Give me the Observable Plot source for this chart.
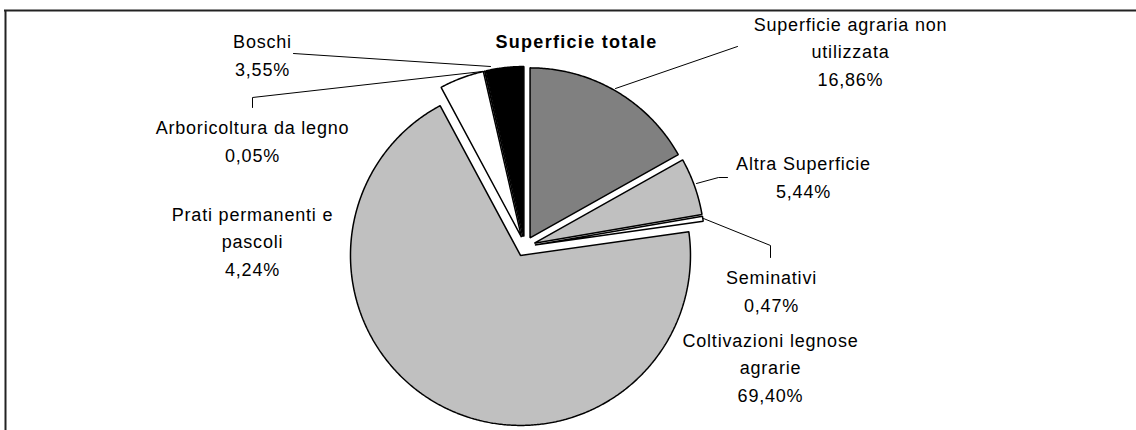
<!DOCTYPE html>
<html>
<head>
<meta charset="utf-8">
<script src="https://cdn.jsdelivr.net/npm/d3@7"></script>
<script src="https://cdn.jsdelivr.net/npm/@observablehq/plot@0.6"></script>
<style>
  html, body { margin: 0; padding: 0; background: #fff; }
  #chart svg { display: block; background: #fff; }
  #chart svg text { letter-spacing: 0.8px; }
  #chart svg g[font-weight="bold"] text { letter-spacing: 1.3px; }
</style>
</head>
<body>
<div id="chart"></div>
<script>
// ---- data ----
const categories = [
  "Superficie agraria non utilizzata",
  "Altra Superficie",
  "Seminativi",
  "Coltivazioni legnose agrarie",
  "Prati permanenti e pascoli",
  "Arboricoltura da legno",
  "Boschi"
];
const values = [16.86, 5.44, 0.47, 69.40, 4.24, 0.05, 3.55];
const valueLabels = ["16,86%", "5,44%", "0,47%", "69,40%", "4,24%", "0,05%", "3,55%"];
const labelLines = [
  ["Superficie agraria non", "utilizzata"],
  ["Altra Superficie"],
  ["Seminativi"],
  ["Coltivazioni legnose", "agrarie"],
  ["Prati permanenti e", "pascoli"],
  ["Arboricoltura da legno"],
  ["Boschi"]
];
const chartTitle = "Superficie totale";

// ---- styles / layout ----
const sliceColors = ["#808080", "#c0c0c0", "#ffffff", "#c0c0c0", "#ffffff", "#c0c0c0", "#000000"];
const W = 1136, H = 430;
const pie = {cx: 524.5, cy: 246, r: 170, explode: 10};
// label anchor: center x, baseline of last line
const labelPos = [
  {x: 850, y: 85},
  {x: 803, y: 197},
  {x: 771, y: 311},
  {x: 770, y: 401},
  {x: 252, y: 275},
  {x: 252, y: 161},
  {x: 262, y: 75}
];
const leaders = [
  [[737, 46], [615, 88]],
  [[727, 177], [718, 177], [696, 183]],
  [[770, 257], [770, 245], [703, 218]],
  null,
  null,
  [[252, 107], [252, 97], [482, 71]],
  [[293, 53], [490, 66]]
];
const titlePos = {x: 576, y: 47};

// ---- build slices from data ----
const arcs = d3.pie().sort(null).value(d => d)(values);
const slicePts = [];
arcs.forEach((a, i) => {
  const mid = (a.startAngle + a.endAngle) / 2;
  const ox = pie.cx + pie.explode * Math.sin(mid);
  const oy = pie.cy - pie.explode * Math.cos(mid);
  slicePts.push({name: categories[i], color: sliceColors[i], x: ox, y: oy});
  const n = Math.max(2, Math.ceil((a.endAngle - a.startAngle) / (Math.PI / 360)));
  for (let k = 0; k <= n; k++) {
    const t = a.startAngle + (a.endAngle - a.startAngle) * k / n;
    slicePts.push({name: categories[i], color: sliceColors[i],
      x: ox + pie.r * Math.sin(t), y: oy - pie.r * Math.cos(t)});
  }
});

const labels = categories.map((c, i) => ({
  text: labelLines[i].concat([valueLabels[i]]).join("\n"),
  x: labelPos[i].x, y: labelPos[i].y
}));

const leaderPts = [];
leaders.forEach((L, i) => {
  if (!L) return;
  L.forEach(p => leaderPts.push({name: categories[i], x: p[0], y: p[1]}));
});

const fontFamily = "'Liberation Sans', Arial, Helvetica, sans-serif";

const chart = Plot.plot({
  width: W,
  height: H,
  margin: 0,
  x: {domain: [0, W], range: [0, W], axis: null},
  y: {domain: [0, H], range: [0, H], axis: null},
  color: {type: "identity"},
  style: {background: "#fff"},
  marks: [
    Plot.ruleX([5], {y1: 10, y2: H, stroke: "#222", strokeWidth: 2}),
    Plot.ruleY([10], {x1: 4, x2: W, stroke: "#222", strokeWidth: 2}),
    Plot.line(slicePts, {x: "x", y: "y", z: "name", fill: "color", stroke: "#000",
      strokeWidth: 1.5, curve: "linear-closed", strokeLinejoin: "miter"}),
    Plot.line(leaderPts, {x: "x", y: "y", z: "name", stroke: "#000", strokeWidth: 1}),
    Plot.text(labels, {x: "x", y: "y", text: "text", lineAnchor: "bottom",
      lineHeight: 27.5 / 18, fontSize: 18, fill: "#000", textAnchor: "middle", fontFamily}),
    Plot.text([chartTitle], {x: () => titlePos.x, y: () => titlePos.y, text: d => d,
      lineAnchor: "bottom", fontSize: 18, fontWeight: "bold", fill: "#000",
      textAnchor: "middle", fontFamily})
  ]
});
document.getElementById("chart").appendChild(chart);
</script>
</body>
</html>
